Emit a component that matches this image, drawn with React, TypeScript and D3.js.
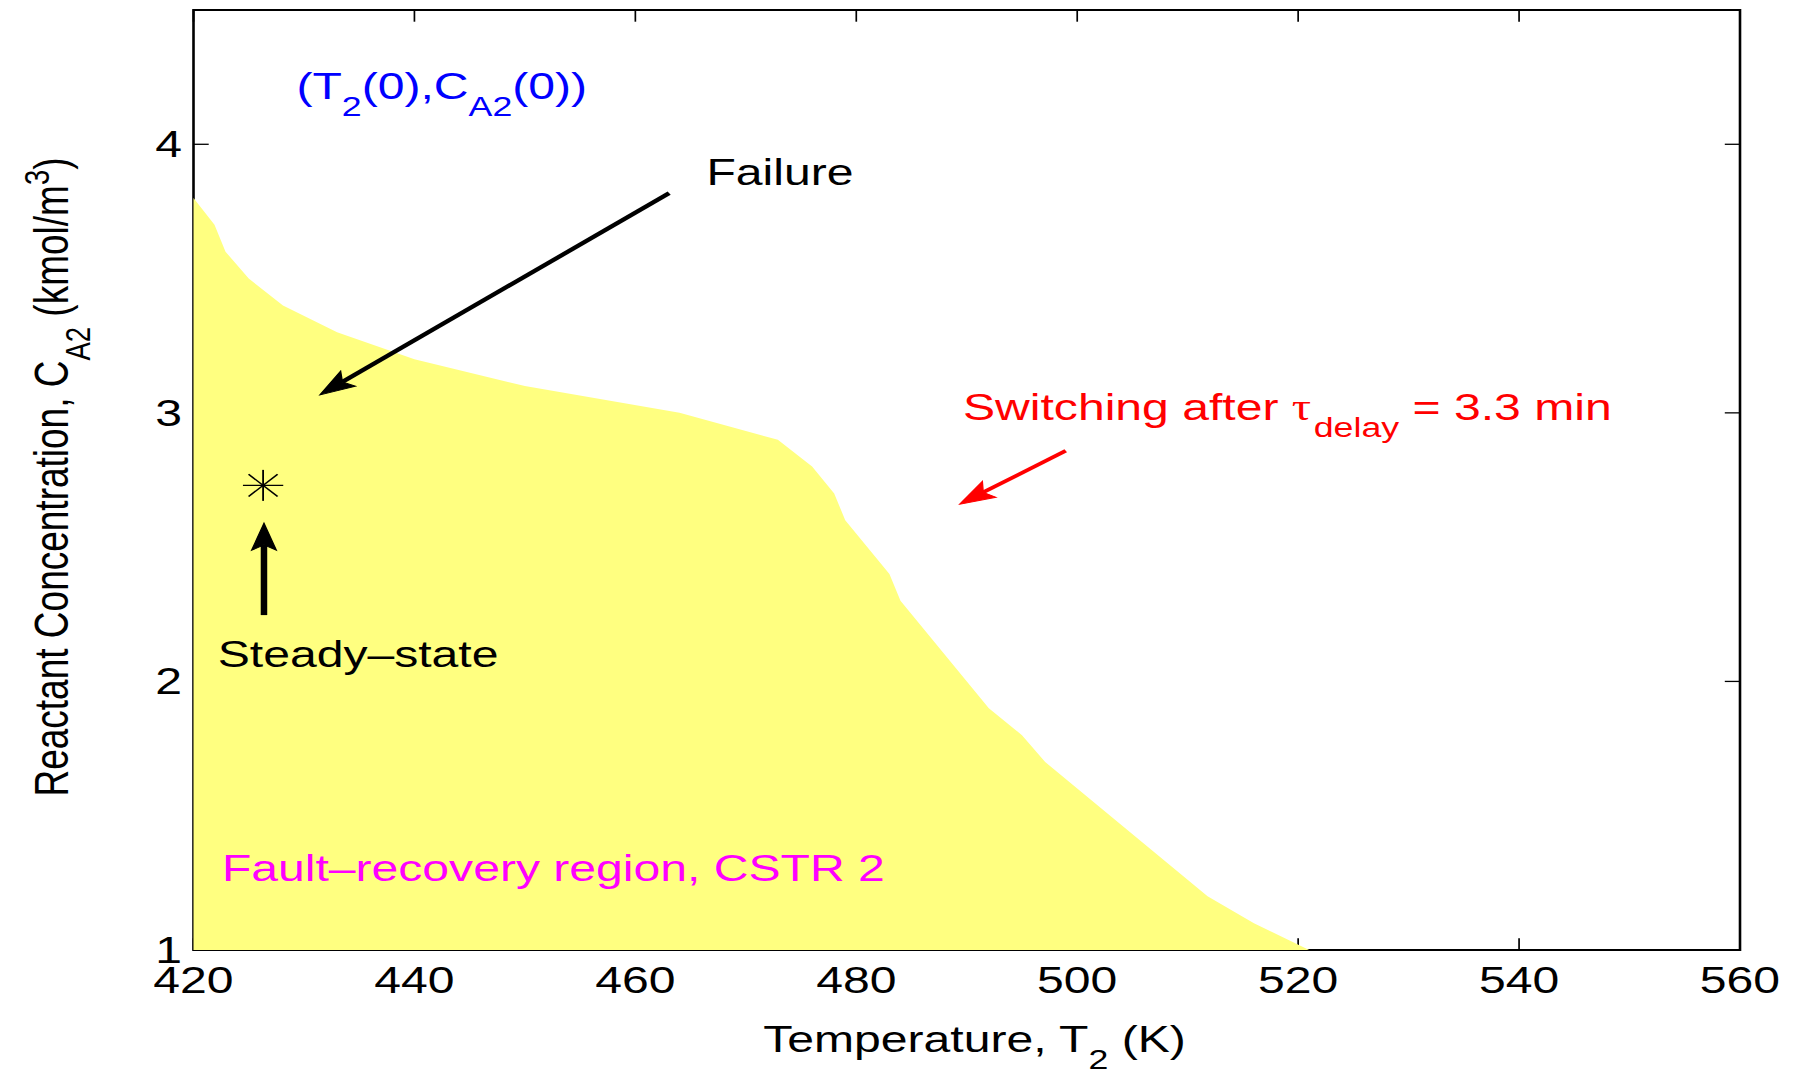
import React from 'react';
import * as d3 from 'd3';

// Figure canvas and the horizontal stretch the whole figure is drawn with
const FIG_W = 1795;
const FIG_H = 1069;
const STRETCH = 1.3;

// Upper edge of the fault-recovery region for CSTR 2
const boundaryT = [420, 421.9, 422.9, 425.0, 428.1, 433.0, 440.0, 450.0, 464.0, 472.9, 476.0, 478.0, 479.0, 483.0, 484.0, 492.0, 495.0, 497.1, 511.8, 516.0, 521.0];
const boundaryC = [3.8, 3.7, 3.6, 3.5, 3.4, 3.3, 3.2, 3.1, 3.0, 2.9, 2.8, 2.7, 2.6, 2.4, 2.3, 1.9, 1.8, 1.7, 1.2, 1.1, 1.0];

// Operating steady state
const steadyT = [426.3];
const steadyC = [2.73];

// Axis ticks
const xTicks = [420, 440, 460, 480, 500, 520, 540, 560];
const yTicks = [1, 2, 3, 4];
const xDomain = [420, 560];
const yDomain = [1, 4.5];

// Annotation arrows (tail -> tip, in data units)
const arrowNames = ['failure', 'steady', 'switch'];
const arrowTail = [[463.06, 3.818], [426.38, 2.247], [498.96, 2.859]];
const arrowTip = [[431.45, 3.067], [426.38, 2.589], [489.37, 2.66]];
const arrowColor = ['#000000', '#000000', '#ff0000'];
const arrowWidth = [4, 5, 3.6];

// Text anchors (left end of baseline, in data units)
const failureAt = [466.44, 3.848];
const steadyLabelAt = [422.19, 2.055];
const initLabelAt = [429.32, 4.167];
const regionLabelAt = [422.57, 1.257];
const switchLabelAt = [489.66, 2.975];

const FONT = '"Liberation Sans", Arial, Helvetica, sans-serif';
const FS = 37;
const SUB = 27.5;
const SUB_DY = 17;

const left = 193.5 / STRETCH;
const right = 1740 / STRETCH;
const top = 10;
const bottom = 950;
const TICK = 11.7;

function arrowPath(x1: number, y1: number, x2: number, y2: number) {
  const dx = x2 - x1;
  const dy = y2 - y1;
  const len = Math.hypot(dx, dy);
  const ux = dx / len;
  const uy = dy / len;
  const nx = -uy;
  const ny = ux;
  const L = 27;
  const W = 9.5;
  const bx = x2 - ux * L;
  const by = y2 - uy * L;
  const kx = x2 - ux * L * 0.8;
  const ky = y2 - uy * L * 0.8;
  return {
    shaft: { x1, y1, x2: kx, y2: ky },
    head: `M${x2},${y2}L${bx + nx * W},${by + ny * W}L${kx},${ky}L${bx - nx * W},${by - ny * W}Z`,
  };
}

export default function App() {
  const x = d3.scaleLinear().domain(xDomain).range([left, right]);
  const y = d3.scaleLinear().domain(yDomain).range([bottom, top]);

  const region = d3
    .area<number>()
    .x((_, i) => x(boundaryT[i]))
    .y0(() => y(yDomain[0]))
    .y1((_, i) => y(boundaryC[i]))(boundaryT.map((_, i) => i));

  const sx = x(steadyT[0]);
  const sy = y(steadyC[0]);
  const r = 15.5;
  const d = r * 0.72;

  const plotMidX = (left + right) / 2;
  const plotMidY = (top + bottom) / 2;

  return (
    <svg
      width={FIG_W}
      height={FIG_H}
      style={{ position: 'absolute', left: 0, top: 0, background: '#fff' }}
      fontFamily={FONT}
    >
      <rect x={0} y={0} width={FIG_W} height={FIG_H} fill="#fff" />
      <g transform={`scale(${STRETCH},1)`}>
        {/* axes box and inward ticks */}
        <rect x={left} y={top} width={right - left} height={bottom - top} fill="none" stroke="#000" strokeWidth={2} />
        {xTicks.map((t) => (
          <g key={'xt' + t}>
            <line x1={x(t)} x2={x(t)} y1={bottom} y2={bottom - TICK} stroke="#000" strokeWidth={1.3} />
            <line x1={x(t)} x2={x(t)} y1={top} y2={top + TICK} stroke="#000" strokeWidth={1.3} />
          </g>
        ))}
        {yTicks.map((t) => (
          <g key={'yt' + t}>
            <line x1={left} x2={left + TICK} y1={y(t)} y2={y(t)} stroke="#000" strokeWidth={1.3} />
            <line x1={right} x2={right - TICK} y1={y(t)} y2={y(t)} stroke="#000" strokeWidth={1.3} />
          </g>
        ))}

        {/* fault-recovery region */}
        <path d={region || ''} fill="#ffff80" stroke="none" />

        {/* tick labels */}
        {xTicks.map((t) => (
          <text key={'xl' + t} x={x(t)} y={993} textAnchor="middle" fontSize={FS} fill="#000">
            {t}
          </text>
        ))}
        {yTicks.map((t) => (
          <text key={'yl' + t} x={182 / STRETCH} y={y(t)} textAnchor="end" dominantBaseline="central" fontSize={FS} fill="#000">
            {t}
          </text>
        ))}

        {/* axis titles */}
        <text x={plotMidX + 6} y={1052} textAnchor="middle" fontSize={FS} fill="#000">
          Temperature, T
          <tspan fontSize={SUB} dy={SUB_DY}>2</tspan>
          <tspan dy={-SUB_DY}> (K)</tspan>
        </text>
        <text
          transform={`translate(${68 / STRETCH},${plotMidY - 3}) rotate(-90)`}
          textAnchor="middle"
          fontSize={FS}
          fill="#000"
        >
          Reactant Concentration, C
          <tspan fontSize={SUB} dy={SUB_DY}>A2</tspan>
          <tspan dy={-SUB_DY}> (kmol/m</tspan>
          <tspan fontSize={SUB} dy={-15}>3</tspan>
          <tspan dy={15}>)</tspan>
        </text>

        {/* steady-state marker */}
        <g stroke="#000" strokeWidth={1.4}>
          <line x1={sx - r} x2={sx + r} y1={sy} y2={sy} />
          <line x1={sx} x2={sx} y1={sy - r} y2={sy + r} />
          <line x1={sx - d} x2={sx + d} y1={sy - d} y2={sy + d} />
          <line x1={sx - d} x2={sx + d} y1={sy + d} y2={sy - d} />
        </g>

        {/* annotation arrows */}
        {arrowNames.map((n, i) => {
          const a = arrowPath(x(arrowTail[i][0]), y(arrowTail[i][1]), x(arrowTip[i][0]), y(arrowTip[i][1]));
          return (
            <g key={n}>
              <line {...a.shaft} stroke={arrowColor[i]} strokeWidth={arrowWidth[i]} />
              <path d={a.head} fill={arrowColor[i]} stroke={arrowColor[i]} strokeWidth={1} strokeLinejoin="miter" />
            </g>
          );
        })}

        {/* annotations */}
        <text x={x(failureAt[0])} y={y(failureAt[1])} fontSize={FS} fill="#000">Failure</text>
        <text x={x(steadyLabelAt[0])} y={y(steadyLabelAt[1])} fontSize={FS} fill="#000">Steady–state</text>
        <text x={x(initLabelAt[0])} y={y(initLabelAt[1])} fontSize={FS} fill="#0000ff">
          (T
          <tspan fontSize={SUB} dy={SUB_DY}>2</tspan>
          <tspan dy={-SUB_DY}>(0),C</tspan>
          <tspan fontSize={SUB} dy={SUB_DY}>A2</tspan>
          <tspan dy={-SUB_DY}>(0))</tspan>
        </text>
        <text x={x(regionLabelAt[0])} y={y(regionLabelAt[1])} fontSize={FS} fill="#ff00ff">
          Fault–recovery region, CSTR 2
        </text>
        <text x={x(switchLabelAt[0])} y={y(switchLabelAt[1])} fontSize={FS} fill="#ff0000" style={{ whiteSpace: 'pre' }}>
          {'Switching after '}
          <tspan fontFamily='"Liberation Serif", "Times New Roman", serif'>τ</tspan>
          <tspan fontSize={SUB} dx={2} dy={SUB_DY}>delay</tspan>
          <tspan dy={-SUB_DY}>{' = 3.3 min'}</tspan>
        </text>
      </g>
    </svg>
  );
}
